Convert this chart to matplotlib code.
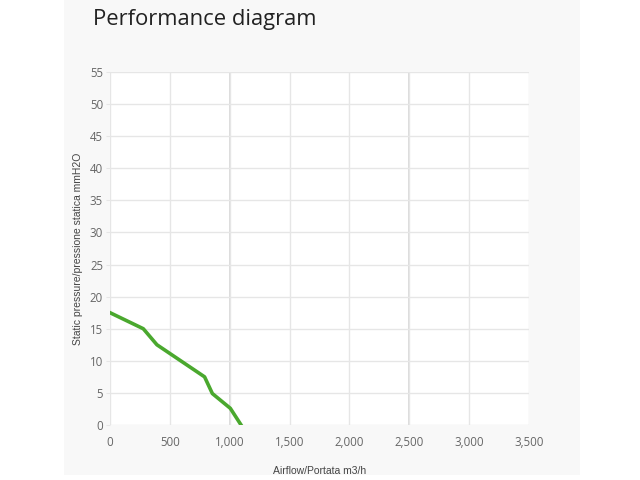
import matplotlib.pyplot as plt
from matplotlib.patches import Rectangle
from matplotlib.ticker import FuncFormatter

airflow = [0, 278, 392, 790, 855, 1005, 1095]
pressure = [17.5, 15.0, 12.5, 7.5, 4.9, 2.6, 0.0]
x_ticks = [0, 500, 1000, 1500, 2000, 2500, 3000, 3500]
y_ticks = [0, 5, 10, 15, 20, 25, 30, 35, 40, 45, 50, 55]
marked_x = [1000, 2500]

W, H = 640, 480
fig = plt.figure(figsize=(6.4, 4.8), dpi=100)
fig.patch.set_facecolor('white')
fig.patches.append(Rectangle((64 / W, 5 / H), (580 - 64) / W, 1 - 5 / H,
                             transform=fig.transFigure, facecolor='#f8f8f8',
                             edgecolor='none', zorder=-10))

ax = fig.add_axes([110 / W, 1 - 425 / H, (529 - 110) / W, (425 - 72) / H])
ax.set_facecolor('white')
ax.plot(airflow, pressure, color='#4aa82e', lw=2.6, solid_joinstyle='round', zorder=3)

ax.set_xlim(0, 3500)
ax.set_ylim(0, 55)
ax.set_xticks(x_ticks)
ax.set_yticks(y_ticks)
ax.xaxis.set_major_formatter(FuncFormatter(lambda v, p: f'{int(v):,}'))
ax.grid(True, color='#e6e6e6', lw=1)
for xv in marked_x:
    ax.axvline(xv, color='#d4d4d4', lw=1.2, zorder=1)
for s in ax.spines.values():
    s.set_visible(False)
ax.tick_params(axis='x', length=0, pad=8, labelsize=8.3, labelcolor='#666666')
ax.tick_params(axis='y', length=3, color='#e6e6e6', pad=2, labelsize=8.3, labelcolor='#666666')
for lab in ax.get_xticklabels() + ax.get_yticklabels():
    lab.set_family('Open Sans')

ax.set_ylabel('Static pressure/pressione statica mmH2O', fontsize=7.5,
              color='#444444', family='Liberation Sans', labelpad=5)
ax.set_xlabel('Airflow/Portata m3/h', fontsize=7.5, color='#444444',
              family='Liberation Sans', labelpad=12)

fig.text(93 / W, 1 - 25 / H, 'Performance diagram', fontsize=15.8,
         family='Open Sans', color='#222222')

fig.savefig('out.png', dpi=100)
